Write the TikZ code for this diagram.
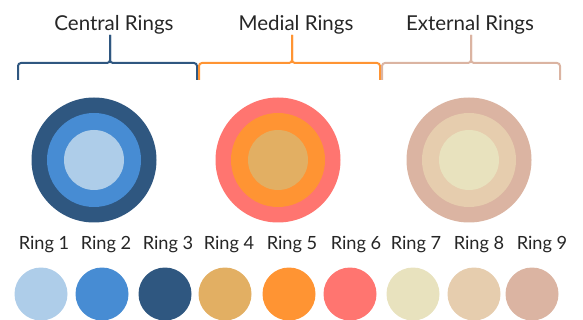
\documentclass[tikz,border=0pt]{standalone}
\usepackage{fontspec}
\setmainfont{Lato}
\usepackage{xcolor}
\usepackage{tikz}
\usetikzlibrary{positioning}

\definecolor{ringOne}{HTML}{AECDE9}
\definecolor{ringTwo}{HTML}{478CD3}
\definecolor{ringThree}{HTML}{2F5780}
\definecolor{ringFour}{HTML}{E2AF63}
\definecolor{ringFive}{HTML}{FF9433}
\definecolor{ringSix}{HTML}{FF7570}
\definecolor{ringSeven}{HTML}{E8E2BE}
\definecolor{ringEight}{HTML}{E6CDAE}
\definecolor{ringNine}{HTML}{DBB4A2}

\begin{document}
\begin{tikzpicture}[
  x=1pt,y=-1pt,
  disc/.style={circle,inner sep=0pt,draw=none},
  outer/.style={disc,minimum size=125pt},
  middle/.style={disc,minimum size=94pt},
  core/.style={disc,minimum size=60pt},
  swatch/.style={disc,minimum size=53pt},
  title/.style={anchor=base,text=black!85,font=\fontsize{20.5}{24}\selectfont},
  tag/.style={anchor=base,text=black!85,font=\fontsize{18.2}{22}\selectfont},
  brace/.style={line width=2pt,rounded corners=3pt},
]
\useasboundingbox (0,0) rectangle (583,320);
% group titles
\node[title] (central)  at (114,31) {Central Rings};
\node[title] (medial)   at (296,31) {Medial Rings};
\node[title] (external) at (470,31) {External Rings};
% braces
\coordinate (cL) at (18,80);  \coordinate (cR) at (197,80);
\coordinate (cM) at (110,63); \coordinate (cT) at (110,35);
\coordinate (mL) at (199,80); \coordinate (mR) at (380,80);
\coordinate (mM) at (292,63); \coordinate (mT) at (292,35);
\coordinate (eL) at (382,80); \coordinate (eR) at (560,80);
\coordinate (eM) at (471,63); \coordinate (eT) at (471,35);
\draw[brace,ringThree] (cL) |- (cM) -- (cT);
\draw[brace,ringThree] (cR) |- (cM) -- (cT);
\draw[brace,ringFive]  (mL) |- (mM) -- (mT);
\draw[brace,ringFive]  (mR) |- (mM) -- (mT);
\draw[brace,ringNine]  (eL) |- (eM) -- (eT);
\draw[brace,ringNine]  (eR) |- (eM) -- (eT);
% nested rings
\node[outer,fill=ringThree]  (cOuter) at (94,160)  {};
\node[middle,fill=ringTwo]   (cMid)   at (94,160)  {};
\node[core,fill=ringOne]     (cCore)  at (94,160)  {};
\node[outer,fill=ringSix]    (mOuter) at (278,160) {};
\node[middle,fill=ringFive]  (mMid)   at (278,160) {};
\node[core,fill=ringFour]    (mCore)  at (278,160) {};
\node[outer,fill=ringNine]   (eOuter) at (469,160) {};
\node[middle,fill=ringEight] (eMid)   at (469,160) {};
\node[core,fill=ringSeven]   (eCore)  at (469,160) {};
% legend
\node[tag] (t1) at (44,250)  {Ring 1};
\node[tag] (t2) at (106,250) {Ring 2};
\node[tag] (t3) at (168,250) {Ring 3};
\node[tag] (t4) at (229,250) {Ring 4};
\node[tag] (t5) at (292,250) {Ring 5};
\node[tag] (t6) at (356,250) {Ring 6};
\node[tag] (t7) at (416,250) {Ring 7};
\node[tag] (t8) at (479,250) {Ring 8};
\node[tag] (t9) at (542,250) {Ring 9};
\node[swatch,fill=ringOne]   (s1) at (41,294)  {};
\node[swatch,fill=ringTwo]   (s2) at (102,294) {};
\node[swatch,fill=ringThree] (s3) at (165,294) {};
\node[swatch,fill=ringFour]  (s4) at (225,294) {};
\node[swatch,fill=ringFive]  (s5) at (289,294) {};
\node[swatch,fill=ringSix]   (s6) at (350,294) {};
\node[swatch,fill=ringSeven] (s7) at (413,294) {};
\node[swatch,fill=ringEight] (s8) at (474,294) {};
\node[swatch,fill=ringNine]  (s9) at (532,294) {};
\end{tikzpicture}
\end{document}
